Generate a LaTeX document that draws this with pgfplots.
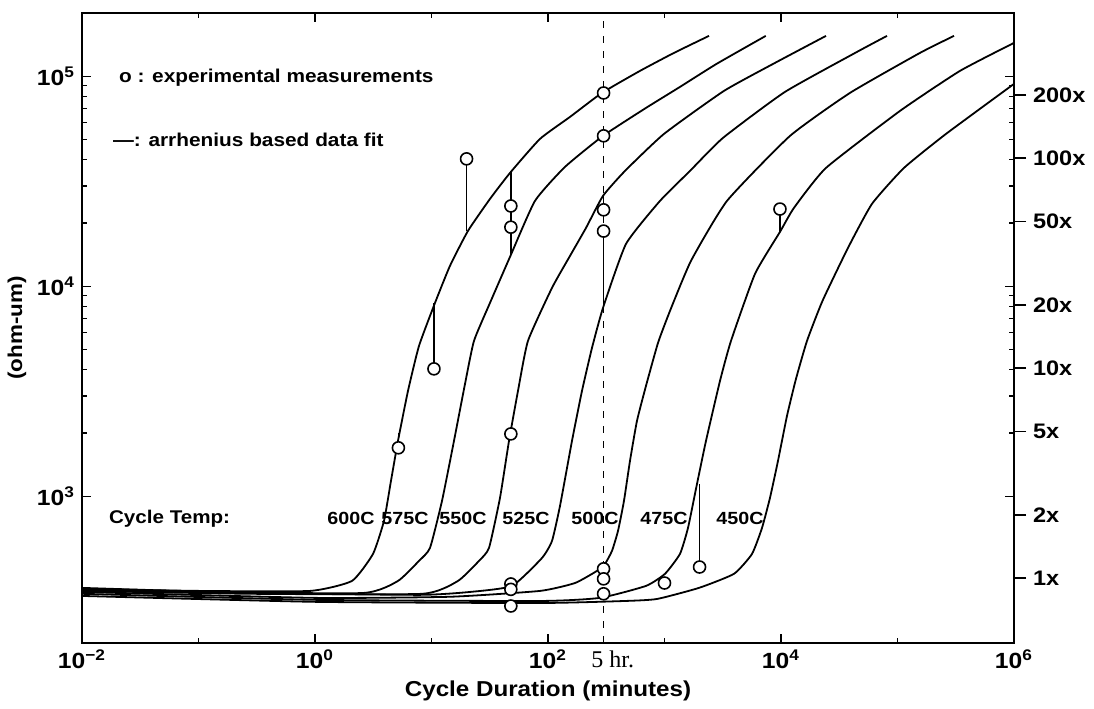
\documentclass[border=0pt]{standalone}
\usepackage{fontspec}
\setmainfont{Liberation Sans}[FakeStretch=1.12]
\newfontfamily\serifff{Liberation Serif}
\usepackage{pgfplots}
\pgfplotsset{compat=1.18}
\begin{document}
\begin{tikzpicture}
\begin{axis}[
  at={(0,0)}, anchor=south west,
  scale only axis, width=466pt, height=315pt,
  xmode=log, ymode=log,
  xmin=0.01, xmax=1e6, ymin=200, ymax=2e5,
  xtick={1e-2,1,1e2,1e4,1e6},
  xticklabels={10\textsuperscript{−2},10\textsuperscript{0},10\textsuperscript{2},10\textsuperscript{4},10\textsuperscript{6}},
  minor xtick={0.1,10,1000,1e5},
  ytick={1e3,1e4,1e5},
  yticklabels={10\textsuperscript{3},10\textsuperscript{4},10\textsuperscript{5}},
  major tick length=4.5pt, minor tick length=2.5pt,
  tick style={black, line width=0.6pt},
  axis line style={line width=1pt},
  ticklabel style={font=\fontsize{11}{13}\selectfont\bfseries},
  xlabel={Cycle Duration (minutes)},
  ylabel={(ohm-um)},
  xlabel style={font=\fontsize{10.8}{13}\selectfont\bfseries, at={(axis description cs:0.5,0)}, anchor=base, yshift=-27pt},
  ylabel style={font=\fontsize{10}{12}\selectfont\bfseries, at={(axis description cs:-0.0697,0.5)}, anchor=center},
  clip=true,
  every axis plot/.append style={line join=round},
]
% dashed 5 hr line
\addplot[black, line width=0.7pt, dash pattern=on 3.5pt off 4pt] coordinates {(300,200) (300,2e5)};
% 600C
\addplot[black, line width=0.9pt, smooth, tension=0.3] coordinates {(0.01,362) (0.103,354) (0.906,354) (2.078,395) (3.147,531) (3.911,763) (4.490,1183) (5.158,1834) (6.285,3173) (7.812,5196) (10.72,8328) (14.41,12500) (20.57,18340) (31.78,26040) (47.19,34630) (85.38,50280) (154.5,64000) (290.8,83270) (616.2,106000) (1206,129100) (2410,155600)};
% 575C
\addplot[black, line width=0.9pt, smooth, tension=0.3] coordinates {(0.01,358) (0.103,350) (2.582,346) (5.158,395) (7.812,492) (9.707,567) (12.31,950) (15.60,1834) (19.40,3425) (23.16,5490) (31.78,8328) (47.19,13790) (77.33,25480) (139.9,36990) (296.6,51960) (693.6,70630) (1358,88920) (2795,114400) (7404,155600)};
% 550C
\addplot[black, line width=0.9pt, smooth, tension=0.3] coordinates {(0.01,354) (0.2767,343) (8.289,343) (16.88,395) (25.57,492) (31.16,567) (38.73,982) (46.27,1834) (55.27,3173) (67.33,5490) (108.2,9815) (154.5,13940) (212.0,18950) (296.6,26920) (458.2,35400) (990,53110) (3242,85110) (8882,115700) (24340,155600)};
% 525C
\addplot[black, line width=0.9pt, smooth, tension=0.3] coordinates {(0.01,366) (0.2767,346) (7.968,339) (21.40,350) (49.09,374) (88.82,508) (108.2,612) (126.8,899) (160.7,1834) (195.8,3173) (238.6,5084) (296.6,7884) (467.4,15900) (915.0,25480) (1655,35400) (3178,50840) (10820,84180) (44900,130500) (81250,155600)};
% 500C
\addplot[black, line width=0.9pt, smooth, tension=0.3] coordinates {(0.01,350) (1.0,328) (14.41,332) (85.38,354) (170.5,386) (263.4,441) (308.5,476) (354.3,549) (399,683) (449,950) (505.6,1473) (580.5,2284) (693.6,3351) (879.5,5370) (1115,7628) (1688,13200) (3440,25480) (11950,51960) (39110,83270) (156000,129100) (305500,155600)};
% 475C
\addplot[black, line width=0.9pt, smooth, tension=0.3] coordinates {(0.01,343) (1.0,321) (85.38,317) (279.5,328) (693.6,374) (1010,427) (1358,531) (1591,706) (1901,1144) (2271,1834) (2995,3540) (3723,5490) (5984,11450) (9800,18140) (12930,23610) (24340,36580) (105100,68350) (344000,106000) (1e6,144100)};
% 450C
\addplot[black, line width=0.9pt, smooth, tension=0.3] coordinates {(0.01,335) (1.0,314) (85.38,310) (458.2,317) (862.1,324) (1978,366) (3951,427) (5639,531) (6870,706) (8045,982) (9424,1473) (11260,2413) (13450,3620) (16720,5490) (22710,8511) (37590,15220) (60400,24660) (113700,36580) (260800,53110) (1e6,91900)};
% error bars
\addplot[black, line width=0.9pt] coordinates {(20,40400) (20,18340)};
\addplot[black, line width=0.9pt] coordinates {(48,35000) (48,14100)};
\addplot[black, line width=0.9pt] coordinates {(10.5,4040) (10.5,8328)};
\addplot[black, line width=0.9pt] coordinates {(5.2,1700) (5.2,2000)};
\addplot[black, line width=0.9pt] coordinates {(300,18300) (300,7900)};
\addplot[black, line width=0.9pt] coordinates {(300,23100) (300,27500)};
\addplot[black, line width=0.9pt] coordinates {(2000,460) (2000,1144)};
\addplot[black, line width=0.9pt] coordinates {(9800,23300) (9800,18140)};
% measurements
\addplot[only marks, mark=*, mark size=3pt, mark options={fill=white, draw=black, line width=0.8pt}] coordinates {
(20,40400) (48,24100) (48,19100) (10.5,4040) (5.2,1700) (48,1980) (48,382) (48,360) (48,300)
(300,83200) (300,52000) (300,23100) (300,18300) (300,451) (300,404) (300,343)
(1000,386) (2000,460) (9800,23300)};
% texts
\node[anchor=west, font=\fontsize{9.3}{11}\selectfont\bfseries] at (axis cs:0.01809,98100) {o : experimental measurements};
\node[anchor=west, font=\fontsize{9.3}{11}\selectfont\bfseries] at (axis cs:0.01607,49750) {—: arrhenius based data fit};
\node[anchor=west, font=\fontsize{9.2}{11}\selectfont\bfseries] at (axis cs:0.01485,780) {Cycle Temp:};
\node[font=\fontsize{8.8}{11}\selectfont\bfseries] at (axis cs:2.037,780) {600C};
\node[font=\fontsize{8.8}{11}\selectfont\bfseries] at (axis cs:5.92,780) {575C};
\node[font=\fontsize{8.8}{11}\selectfont\bfseries] at (axis cs:18.64,780) {550C};
\node[font=\fontsize{8.8}{11}\selectfont\bfseries] at (axis cs:64.76,780) {525C};
\node[font=\fontsize{8.8}{11}\selectfont\bfseries] at (axis cs:253.2,780) {500C};
\node[font=\fontsize{8.8}{11}\selectfont\bfseries] at (axis cs:990,780) {475C};
\node[font=\fontsize{8.8}{11}\selectfont\bfseries] at (axis cs:4447,780) {450C};
\end{axis}
\node[anchor=base west, font=\serifff\fontsize{12}{14}\selectfont, inner sep=0pt] at (254.5pt,-12.5pt) {5 hr.};
\begin{axis}[
  at={(0,0)}, anchor=south west,
  scale only axis, width=466pt, height=315pt,
  ymode=log, ymin=200, ymax=2e5, xmin=0, xmax=1,
  axis x line=none, axis y line*=right,
  axis line style={line width=1pt},
  ytick={407,814,2035,4070,8140,20350,40700,81400},
  yticklabels={1x,2x,5x,10x,20x,50x,100x,200x},
  yminorticks=false,
  tick align=outside, major tick length=6pt,
  tick style={black, line width=0.7pt},
  yticklabel style={font=\fontsize{10.5}{12}\selectfont\bfseries},
]
\addplot[draw=none] coordinates {(0.5,1000)};
\end{axis}
\path[use as bounding box] (-41pt,-30.5pt) rectangle (506pt,321.5pt);
\end{tikzpicture}
\end{document}
